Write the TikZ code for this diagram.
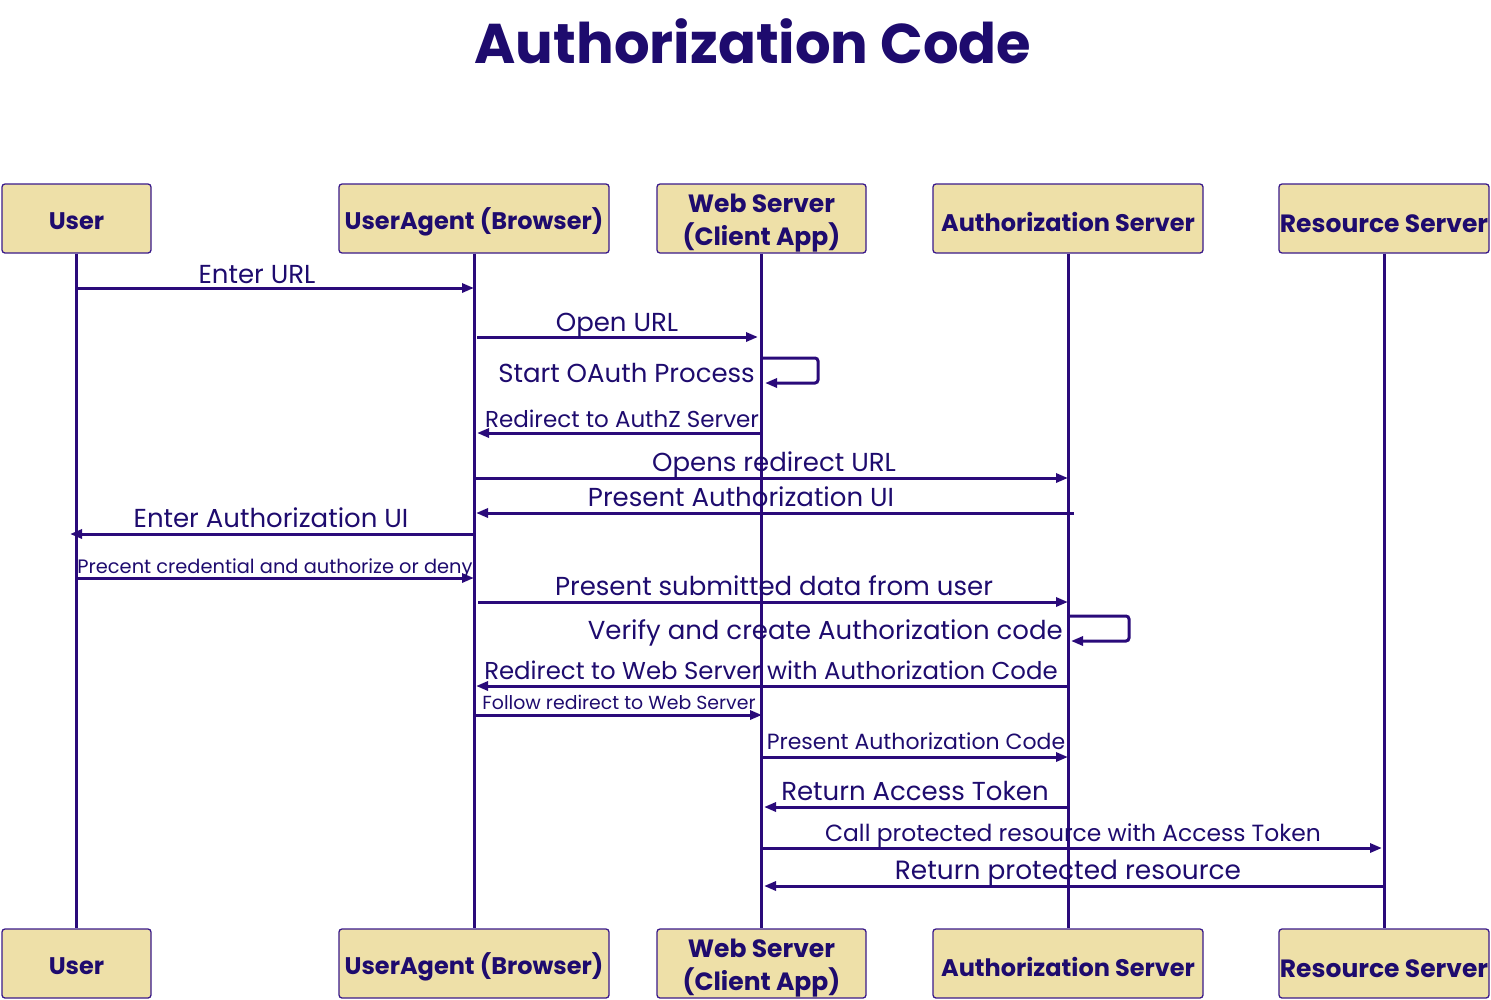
\documentclass[tikz,border=0pt]{standalone}
\usepackage{fontspec}
\setmainfont{Poppins}
\usetikzlibrary{arrows.meta,calc}
\definecolor{ink}{HTML}{1E0B6E}
\definecolor{wire}{HTML}{2A0A7A}
\definecolor{boxfill}{HTML}{EEE0A8}
\definecolor{boxline}{HTML}{3A1A8A}
\tikzset{
  actor/.style={draw=boxline,line width=1.3pt,fill=boxfill,rounded corners=3pt,minimum height=69pt,inner sep=0pt},
  actortext/.style={inner sep=0pt,text=ink,font=\fontsize{24}{33}\selectfont\bfseries,align=center},
  life/.style={draw=wire,line width=3pt},
  msg/.style={draw=wire,line width=3pt,-{Triangle[length=12pt,width=9pt]}},
  lbl/.style={text=ink,anchor=base,inner sep=0pt,font=\fontsize{26}{29}\selectfont},
  lblR/.style={text=ink,anchor=base east,inner sep=0pt,font=\fontsize{26}{29}\selectfont},
}
\begin{document}
\begin{tikzpicture}[x=1pt,y=-1pt]
\useasboundingbox (0,0) rectangle (1491,999);
\node[text=ink,font=\fontsize{56}{62}\selectfont\bfseries,anchor=base] (title) at (753,63) {Authorization Code};
% top actors
\node[actor,minimum width=149pt] (t1) at (76.5,218.5) {};
\node[actor,minimum width=270pt] (t2) at (474,218.5) {};
\node[actor,minimum width=209pt] (t3) at (761.5,218.5) {};
\node[actor,minimum width=270pt] (t4) at (1068,218.5) {};
\node[actor,minimum width=210pt] (t5) at (1384,218.5) {};
% bottom actors
\node[actor,minimum width=149pt] (b1) at (76.5,963.5) {};
\node[actor,minimum width=270pt] (b2) at (474,963.5) {};
\node[actor,minimum width=209pt] (b3) at (761.5,963.5) {};
\node[actor,minimum width=270pt] (b4) at (1068,963.5) {};
\node[actor,minimum width=210pt] (b5) at (1384,963.5) {};
\foreach \p in {t,b}{
  \node[actortext] (\p1x) at ([yshift=-3pt]\p1.center) {User};
  \node[actortext] (\p2x) at ([yshift=-3pt]\p2.center) {UserAgent (Browser)};
  \node[actortext,font=\fontsize{25}{33}\selectfont\bfseries] (\p3x) at ([yshift=-5pt]\p3.center) {Web Server\\(Client App)};
  \node[actortext] (\p4x) at ([yshift=-3pt]\p4.center) {Authorization Server};
  \node[actortext,font=\fontsize{25}{33}\selectfont\bfseries] (\p5x) at ([yshift=-5pt]\p5.center) {Resource Server};
}
% lifelines
\foreach \i in {1,...,5}{\draw[life] (t\i.south) -- (b\i.north);}
% lifeline x helpers
\def\xU{76}\def\xA{474}\def\xW{762}\def\xZ{1068}\def\xR{1384}
% messages
\coordinate (m1a) at (\xU,288); \coordinate (m1b) at (\xA,288);
\draw[msg] (m1a) -- (m1b);
\node[lbl] (l1) at (257,283) {Enter URL};

\coordinate (m2a) at (477,337); \coordinate (m2b) at (758,337);
\draw[msg] (m2a) -- (m2b);
\node[lbl] (l2) at (617,331) {Open URL};

\coordinate (m3a) at (\xW,358); \coordinate (m3b) at (765,383);
\draw[msg,rounded corners=3pt] (m3a) -- (818,358) -- (818,383) -- (m3b);
\node[lblR] (l3) at (755,382) {Start OAuth Process};

\coordinate (m4a) at (\xW,433); \coordinate (m4b) at (477,433);
\draw[msg] (m4a) -- (m4b);
\node[lbl,font=\fontsize{23}{26}\selectfont] (l4) at (622,427) {Redirect to AuthZ Server};

\coordinate (m5a) at (\xA,478); \coordinate (m5b) at (\xZ,478);
\draw[msg] (m5a) -- (m5b);
\node[lbl] (l5) at (774,471) {Opens redirect URL};

\coordinate (m6a) at (1074,513); \coordinate (m6b) at (476,513);
\draw[msg] (m6a) -- (m6b);
\node[lbl] (l6) at (741,506) {Present Authorization UI};

\coordinate (m7a) at (\xA,534); \coordinate (m7b) at (70,534);
\draw[msg] (m7a) -- (m7b);
\node[lbl] (l7) at (271,527) {Enter Authorization UI};

\coordinate (m8a) at (\xU,578); \coordinate (m8b) at (\xA,578);
\draw[msg] (m8a) -- (m8b);
\node[lbl,font=\fontsize{19.4}{22}\selectfont] (l8) at (275,573) {Precent credential and authorize or deny};

\coordinate (m9a) at (478,602); \coordinate (m9b) at (\xZ,602);
\draw[msg] (m9a) -- (m9b);
\node[lbl] (l9) at (774,595) {Present submitted data from user};

\coordinate (m10a) at (\xZ,616); \coordinate (m10b) at (1071,641);
\draw[msg,rounded corners=3pt] (m10a) -- (1129,616) -- (1129,641) -- (m10b);
\node[lblR] (l10) at (1063,639) {Verify and create Authorization code};

\coordinate (m11a) at (\xZ,686); \coordinate (m11b) at (476,686);
\draw[msg] (m11a) -- (m11b);
\node[lbl,font=\fontsize{24.4}{27}\selectfont] (l11) at (771,679) {Redirect to Web Server with Authorization Code};

\coordinate (m12a) at (\xA,715); \coordinate (m12b) at (\xW,715);
\draw[msg] (m12a) -- (m12b);
\node[lbl,font=\fontsize{18.9}{22}\selectfont] (l12) at (619,709) {Follow redirect to Web Server};

\coordinate (m13a) at (\xW,757); \coordinate (m13b) at (\xZ,757);
\draw[msg] (m13a) -- (m13b);
\node[lbl,font=\fontsize{22}{25}\selectfont] (l13) at (916,749) {Present Authorization Code};

\coordinate (m14a) at (\xZ,807); \coordinate (m14b) at (764,807);
\draw[msg] (m14a) -- (m14b);
\node[lbl] (l14) at (915,800) {Return Access Token};

\coordinate (m15a) at (\xW,848); \coordinate (m15b) at (1382,848);
\draw[msg] (m15a) -- (m15b);
\node[lbl,font=\fontsize{23.4}{26}\selectfont] (l15) at (1073,841) {Call protected resource with Access Token};

\coordinate (m16a) at (\xR,886); \coordinate (m16b) at (764,886);
\draw[msg] (m16a) -- (m16b);
\node[lbl,font=\fontsize{26.4}{29}\selectfont] (l16) at (1068,879) {Return protected resource};
\end{tikzpicture}
\end{document}
